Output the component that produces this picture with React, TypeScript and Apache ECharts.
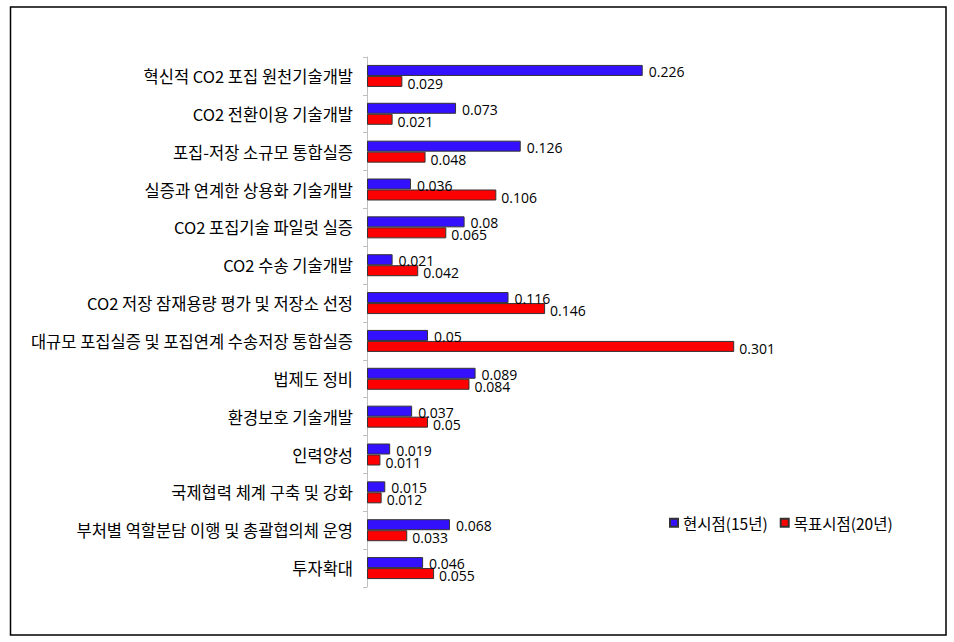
import React, { useEffect, useRef } from "react";
import * as echarts from "echarts";

const categories = [
  "혁신적 CO2 포집 원천기술개발",
  "CO2 전환이용 기술개발",
  "포집-저장 소규모 통합실증",
  "실증과 연계한 상용화 기술개발",
  "CO2 포집기술 파일럿 실증",
  "CO2 수송 기술개발",
  "CO2 저장 잠재용량 평가 및 저장소 선정",
  "대규모 포집실증 및 포집연계 수송저장 통합실증",
  "법제도 정비",
  "환경보호 기술개발",
  "인력양성",
  "국제협력 체계 구축 및 강화",
  "부처별 역할분담 이행 및 총괄협의체 운영",
  "투자확대",
];
const currentValues = [0.226, 0.073, 0.126, 0.036, 0.08, 0.021, 0.116, 0.05, 0.089, 0.037, 0.019, 0.015, 0.068, 0.046];
const targetValues = [0.029, 0.021, 0.048, 0.106, 0.065, 0.042, 0.146, 0.301, 0.084, 0.05, 0.011, 0.012, 0.033, 0.055];
const seriesNames = ["현시점(15년)", "목표시점(20년)"];

const KR = "'Noto Sans CJK KR', 'Noto Sans', sans-serif";
const NUM = "'Open Sans', 'Liberation Sans', sans-serif";

export default function App() {
  const ref = useRef<HTMLDivElement>(null);
  useEffect(() => {
    if (!ref.current) return;
    const chart = echarts.init(ref.current, undefined, { renderer: "svg" });
    chart.setOption({
      animation: false,
      backgroundColor: "#ffffff",
      graphic: [
        {
          type: "rect",
          shape: { x: 10.5, y: 7, width: 935.5, height: 628 },
          style: { fill: "none", stroke: "#000", lineWidth: 1.5 },
          silent: true,
        },
      ],
      legend: {
        left: 664,
        top: 510,
        itemWidth: 8,
        itemHeight: 8,
        itemGap: 12,
        icon: "rect",
        textStyle: { fontFamily: KR, fontSize: 15.5, color: "#000" },
        data: seriesNames,
      },
      grid: { left: 367, top: 57, height: 530, right: 99 },
      xAxis: {
        type: "value",
        min: 0,
        max: 0.4,
        show: false,
      },
      yAxis: {
        type: "category",
        inverse: true,
        data: categories,
        axisLine: { show: true, lineStyle: { color: "#bfbfbf", width: 1 } },
        axisTick: { show: true, length: 4, lineStyle: { color: "#bfbfbf" } },
        axisLabel: { fontFamily: KR, fontSize: 16.5, color: "#000", margin: 14 },
        splitLine: { show: false },
      },
      series: [
        {
          name: seriesNames[0],
          type: "bar",
          data: currentValues,
          barWidth: 11,
          barGap: "0%",
          itemStyle: { color: "#3311ff", borderColor: "#333", borderWidth: 1 },
          label: {
            show: true,
            position: "right",
            distance: 6,
            offset: [0, 1],
            fontFamily: NUM,
            fontSize: 14,
            color: "#000",
          },
        },
        {
          name: seriesNames[1],
          type: "bar",
          data: targetValues,
          barWidth: 11,
          barGap: "0%",
          itemStyle: { color: "#ff0000", borderColor: "#333", borderWidth: 1 },
          label: {
            show: true,
            position: "right",
            distance: 5,
            offset: [0, 2],
            fontFamily: NUM,
            fontSize: 14,
            color: "#000",
          },
        },
      ],
    });
    return () => chart.dispose();
  }, []);
  return (
    <div
      ref={ref}
      style={{ position: "absolute", left: 0, top: 0, width: 954, height: 642 }}
    />
  );
}
